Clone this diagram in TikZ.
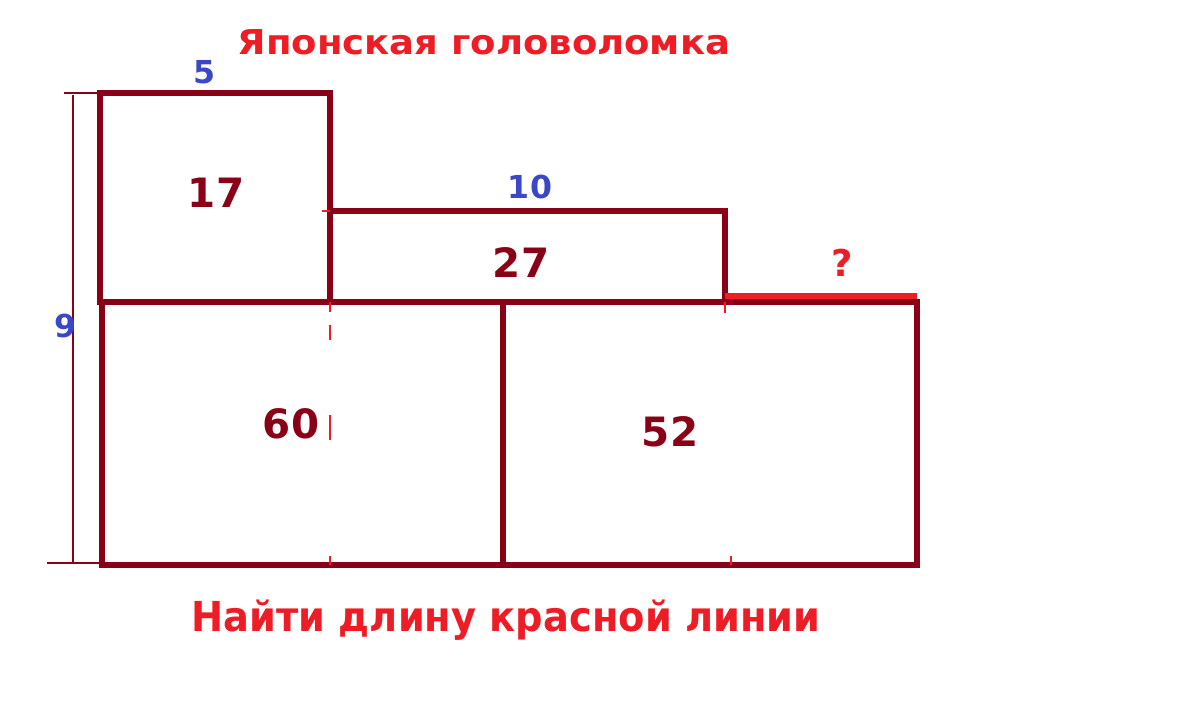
\documentclass[tikz,border=0pt]{standalone}
\usepackage{fontspec}
\setmainfont{DejaVu Sans}
\usetikzlibrary{calc}
\definecolor[named]{PuzzleWine}{HTML}{8A0016}
\definecolor[named]{PuzzleBlue}{HTML}{3A48C8}
\definecolor[named]{PuzzleRed}{HTML}{EE1C25}
\tikzset{
  wall/.style={draw=PuzzleWine,line width=3.2pt},
  dimline/.style={draw=PuzzleWine,line width=0.9pt},
  redline/.style={draw=PuzzleRed,line width=3.4pt},
  tick/.style={draw=PuzzleRed,line width=1.2pt},
  area/.style={text=PuzzleWine,font=\bfseries\fontsize{23}{23}\selectfont},
  side/.style={text=PuzzleBlue,inner sep=1pt,font=\bfseries\fontsize{18}{18}\selectfont},
  caption/.style={text=PuzzleRed,font=\bfseries\fontsize{#1}{#1}\selectfont},
}
\begin{document}
\begin{tikzpicture}[x=0.02cm,y=-0.02cm]
  \useasboundingbox[fill=white] (0,0) rectangle (1191,708);
  % the four rectangles
  \draw[wall] (100,93) rectangle (330,302);
  \draw[wall] (330,211) rectangle (725,302);
  \draw[wall] (102,302) rectangle (503,565);
  \draw[wall] (503,302) rectangle (917,565);
  % the red line
  \draw[redline] (725,296) -- (917,296);
  % height of the figure
  \draw[dimline] (73,95) -- (73,563);
  \draw[dimline] (64,93) -- (100,93);
  \draw[dimline] (47,563) -- (100,563);
  % small red marks
  \draw[tick] (322,211) -- (330,211);
  \draw[tick] (330,302) -- (330,312);
  \draw[tick] (330,325) -- (330,340);
  \draw[tick] (330,415) -- (330,440);
  \draw[tick] (330,556) -- (330,565);
  \draw[tick] (725,302) -- (725,313);
  \draw[tick] (731,556) -- (731,565);
  % labels
  \node[caption=19.5,xscale=1.08,transform shape] (title) at (484,42) {Японская головоломка};
  \node[caption=23.5,xscale=0.93,transform shape] (task) at (506,620) {Найти длину красной линии};
  \node[side] (top) at (205,72) {5};
  \node[side] (mid) at (530,187) {10};
  \node[side] (height) at (66,326) {9};
  \node[caption=21] (ask) at (842,263) {?};
  \node[area] (a17) at (216,193) {17};
  \node[area] (a27) at (521,262) {27};
  \node[area] (a60) at (291,424) {60};
  \node[area] (a52) at (670,432) {52};
\end{tikzpicture}
\end{document}
